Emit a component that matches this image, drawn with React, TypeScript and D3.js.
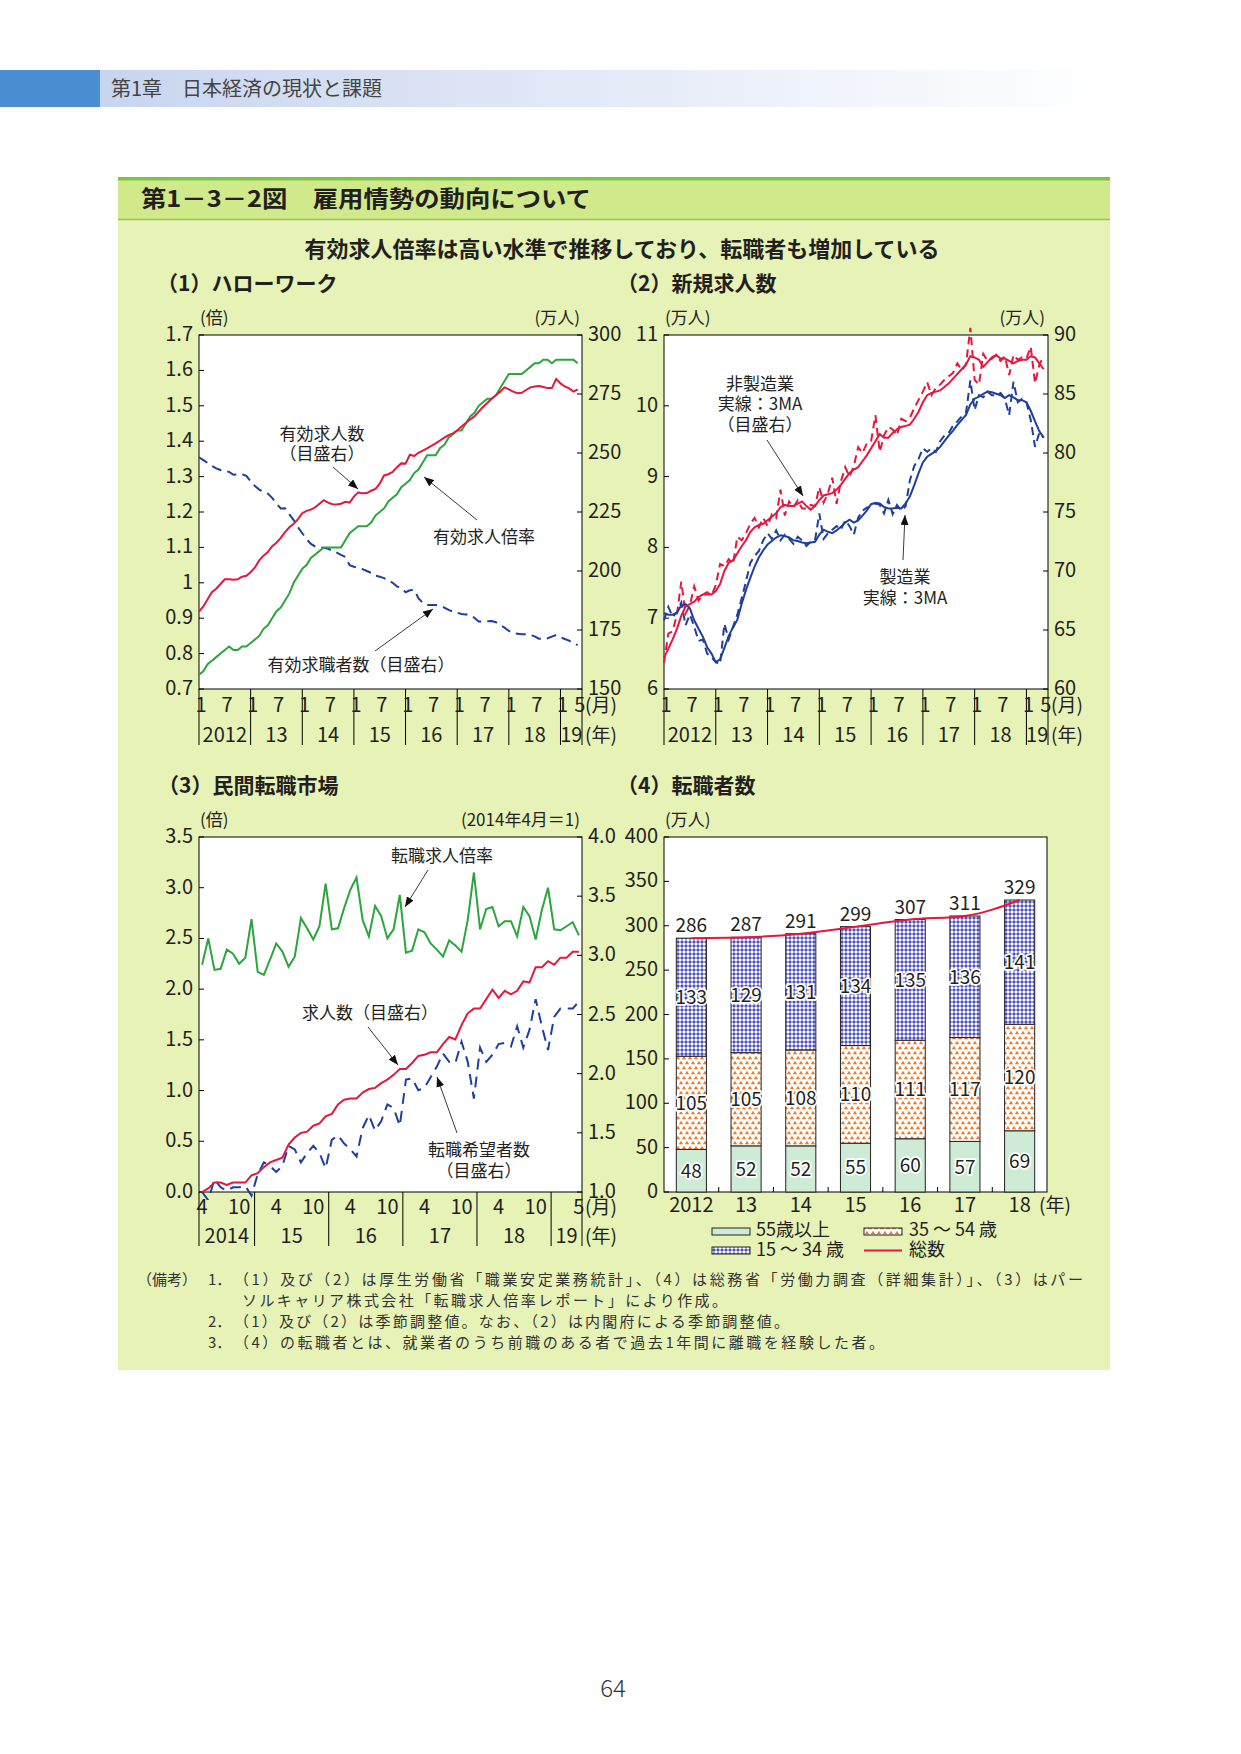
import React from 'react';
import * as d3 from 'd3';

// ---------------- DATA ----------------
// Panel 1: Hello Work, monthly Jan 2012 - May 2019
const p1Ratio = [
  0.74, 0.75, 0.77, 0.78, 0.79, 0.80, 0.81, 0.82, 0.81, 0.81, 0.82, 0.82,
  0.83, 0.84, 0.85, 0.87, 0.88, 0.90, 0.92, 0.93, 0.95, 0.97, 1.00, 1.02,
  1.04, 1.05, 1.07, 1.08, 1.09, 1.10, 1.10, 1.10, 1.10, 1.10, 1.12, 1.14,
  1.15, 1.16, 1.16, 1.16, 1.17, 1.19, 1.20, 1.21, 1.23, 1.24, 1.25, 1.27,
  1.28, 1.29, 1.31, 1.32, 1.34, 1.36, 1.36, 1.36, 1.38, 1.39, 1.41, 1.42,
  1.43, 1.43, 1.45, 1.47, 1.48, 1.50, 1.51, 1.52, 1.52, 1.53, 1.55, 1.57,
  1.59, 1.59, 1.59, 1.59, 1.60, 1.61, 1.62, 1.62, 1.63, 1.63, 1.62, 1.63,
  1.63, 1.63, 1.63, 1.63, 1.62,
];
const p1Offers = [
  182.8, 185, 188, 191, 192.5, 194.5, 196.5, 196.5, 196.3, 196.5, 197.6, 198,
  199.5, 201.5, 204.5, 206.5, 208, 210.5, 212, 214, 216.5, 218.5, 220, 222,
  224.5, 225.5, 226, 227, 228.5, 230, 229, 228.3, 228.2, 228.5, 229.3, 229,
  231.5, 233.3, 232.9, 233, 234, 234.8, 237, 240.5, 241, 242, 244, 245.6,
  245.5, 249.3, 248.7, 250.1, 251, 252, 253, 254.1, 255.3, 256.5, 257.6, 258.3,
  259.5, 261.2, 262.7, 264.2, 265.5, 267.5, 269.5, 271.2, 273, 274.5, 276, 277.8,
  277, 276, 275.3, 275.5, 276.7, 277.8, 278.2, 278.4, 278, 277.5, 277.5, 281.4,
  279.5, 278.2, 277.4, 276, 277,
];
const p1Seekers = [
  248.2, 247, 245.8, 244.5, 243.5, 242.8, 242.3, 242, 240.8, 241, 241, 240.3,
  238, 236, 234.5, 233.5, 232.8, 231, 228.5, 226.5, 226.6, 224, 221.6, 218.5,
  216, 213.5, 211.5, 210.4, 210, 209.8, 209.4, 208.6, 207.8, 206.8, 206, 202.5,
  201.8, 201.4, 200.8, 200, 199.2, 198, 197.6, 197, 196, 195, 193.5, 192.7,
  191, 191.8, 192, 188.5, 186.5, 185.6, 185.6, 185.6, 185.2, 184.5, 183.5, 182.8,
  182.3, 181.8, 181.6, 181.4, 180.2, 178.6, 178.6, 178.7, 178.8, 178.3, 177.2, 176,
  174.6, 173.6, 173.4, 173.2, 173.2, 172.9, 172.3, 171.3, 171.2, 171.5, 172.2, 172.9,
  172, 171.2, 170.5, 169.5, 168.6,
];
const p1LeftTicks = ['0.7', '0.8', '0.9', '1', '1.1', '1.2', '1.3', '1.4', '1.5', '1.6', '1.7'];
const p1RightTicks = [150, 175, 200, 225, 250, 275, 300];

// Panel 2: new job offers (manufacturing left axis, non-manufacturing right axis)
const p2MfgRaw = [
  6.97, 7.16, 7.02, 7.08, 7.22, 6.90, 7.05, 6.88, 6.68, 6.70, 6.50, 6.45,
  6.38, 6.35, 6.92, 6.70, 6.88, 7.05, 7.28, 7.52, 7.78, 7.88, 7.95, 8.10,
  8.20, 8.12, 8.24, 8.10, 8.18, 8.12, 8.05, 8.15, 8.10, 8.02, 8.08, 8.10,
  8.48, 8.12, 8.20, 8.25, 8.30, 8.25, 8.38, 8.30, 8.18, 8.42, 8.52, 8.56,
  8.58, 8.62, 8.60, 8.48, 8.67, 8.47, 8.60, 8.52, 8.58, 8.95, 9.15, 9.25,
  9.40, 9.35, 9.40, 9.35, 9.50, 9.58, 9.62, 9.72, 9.78, 9.85, 9.90, 10.36,
  9.94, 10.15, 10.12, 10.20, 10.15, 10.15, 10.18, 10.10, 9.87, 10.34, 10.05, 10.10,
  10.05, 9.80, 9.42, 9.62, 9.55,
];
const p2MfgMA = [
  7.07, 7.05, 7.05, 7.08, 7.18, 7.20, 7.14, 6.97, 6.85, 6.74, 6.59, 6.50,
  6.38, 6.42, 6.58, 6.75, 6.87, 6.98, 7.20, 7.40, 7.57, 7.73, 7.86, 7.96,
  8.04, 8.09, 8.14, 8.17, 8.16, 8.14, 8.10, 8.09, 8.07, 8.06, 8.07, 8.08,
  8.18, 8.25, 8.22, 8.20, 8.24, 8.29, 8.35, 8.39, 8.35, 8.38, 8.45, 8.52,
  8.61, 8.63, 8.62, 8.57, 8.55, 8.55, 8.56, 8.55, 8.62, 8.72, 8.88, 9.05,
  9.20, 9.28, 9.32, 9.36, 9.42, 9.50, 9.58, 9.65, 9.73, 9.80, 9.87, 10.02,
  10.10, 10.13, 10.17, 10.20, 10.19, 10.17, 10.15, 10.11, 10.15, 10.12, 10.08, 10.08,
  10.05, 9.93, 9.78, 9.64, 9.55,
];
const p2NonRaw = [
  62.2, 64.7, 64.9, 66.3, 69.1, 66.4, 67.1, 68.7, 67.5, 68.0, 68.2, 67.9,
  68.8, 70.6, 70.4, 71.0, 70.6, 72.9, 72.6, 73.2, 74.0, 74.5, 73.7, 74.5,
  73.8, 74.8, 74.5, 76.9, 74.7, 75.9, 75.4, 76.0, 75.3, 75.3, 75.6, 75.5,
  77.1, 75.8, 76.6, 77.9, 75.7, 77.6, 78.8, 78.0, 78.9, 80.5, 80.0, 80.8,
  81.0, 83.2, 80.1, 81.5, 82.2, 82.0, 81.5, 82.9, 82.7, 83.0, 83.8, 84.5,
  85.2, 86.0, 84.9, 85.5, 85.8, 86.2, 86.5, 86.8, 87.6, 87.0, 87.5, 90.6,
  86.2, 85.8, 88.4, 87.8, 88.0, 88.3, 87.8, 88.2, 86.6, 88.3, 87.9, 88.1,
  88.0, 89.0, 85.9, 87.5, 88.2,
];
const p2NonMA = [
  62.7, 63.4, 64.2, 65.1, 66.2, 67.0, 67.2, 67.4, 67.8, 68.0, 68.0, 68.0,
  68.3, 68.9, 70.0, 70.7, 70.9, 71.5, 72.1, 72.6, 73.3, 73.7, 73.9, 74.0,
  74.3, 74.6, 74.9, 75.4, 75.6, 75.5, 75.5, 75.7, 75.9, 75.5, 75.2, 75.5,
  76.0, 76.4, 76.5, 76.6, 76.9, 77.3, 77.8, 78.3, 78.6, 78.8, 79.3, 79.8,
  80.4, 81.0, 81.6, 81.3, 81.3, 81.7, 82.0, 82.2, 82.3, 82.4, 82.9, 83.5,
  84.3, 84.9, 85.1, 85.2, 85.3, 85.6, 85.9, 86.3, 86.7, 87.1, 87.5, 88.2,
  88.1, 87.9, 87.3, 87.7, 88.1, 88.3, 88.0, 88.0, 87.8, 87.6, 87.8, 87.9,
  87.9, 88.2, 88.1, 87.6, 87.1,
];
const p2LeftTicks = [6, 7, 8, 9, 10, 11];
const p2RightTicks = [60, 65, 70, 75, 80, 85, 90];

// shared month axis for panels 1 and 2
const p12Years = ['2012', '13', '14', '15', '16', '17', '18', '19'];
const p12MonthLabels = [[1, 7], [1, 7], [1, 7], [1, 7], [1, 7], [1, 7], [1, 7], [1, 5]];

// Panel 3: private job-change market, monthly Apr 2014 - May 2019
const p3Ratio = [
  2.24, 2.50, 2.19, 2.20, 2.39, 2.35, 2.25, 2.31, 2.69, 2.17,
  2.14, 2.29, 2.45, 2.37, 2.22, 2.32, 2.70, 2.60, 2.49, 2.62,
  3.04, 2.59, 2.60, 2.80, 2.98, 3.10, 2.68, 2.52, 2.82, 2.72,
  2.50, 2.59, 2.93, 2.36, 2.38, 2.59, 2.56, 2.45, 2.39, 2.32,
  2.48, 2.43, 2.37, 2.68, 3.15, 2.59, 2.79, 2.81, 2.62, 2.67,
  2.67, 2.52, 2.81, 2.72, 2.49, 2.78, 3.00, 2.59, 2.58, 2.62,
  2.66, 2.53,
];
const p3Offers = [
  1.00, 1.03, 1.08, 1.08, 1.06, 1.08, 1.08, 1.08, 1.14, 1.16,
  1.21, 1.25, 1.27, 1.29, 1.40, 1.46, 1.50, 1.51, 1.56, 1.58,
  1.64, 1.66, 1.74, 1.78, 1.79, 1.79, 1.84, 1.87, 1.88, 1.92,
  1.95, 1.99, 2.04, 2.04, 2.09, 2.15, 2.16, 2.18, 2.18, 2.25,
  2.31, 2.29, 2.41, 2.51, 2.55, 2.55, 2.63, 2.71, 2.64, 2.70,
  2.67, 2.70, 2.78, 2.77, 2.90, 2.90, 2.95, 2.92, 2.98, 2.98,
  3.03, 3.03,
];
const p3Seekers = [
  1.00, 0.93, 1.11, 1.04, 1.01, 1.04, 1.04, 1.05, 0.97, 1.15,
  1.25, 1.22, 1.17, 1.22, 1.39, 1.36, 1.25, 1.33, 1.39, 1.33,
  1.20, 1.44, 1.48, 1.41, 1.36, 1.30, 1.54, 1.65, 1.52, 1.60,
  1.74, 1.71, 1.56, 1.95, 1.96, 1.86, 1.88, 1.97, 2.06, 2.17,
  2.10, 2.09, 2.27, 2.10, 1.79, 2.22, 2.10, 2.16, 2.25, 2.26,
  2.23, 2.40, 2.22, 2.37, 2.63, 2.40, 2.20, 2.48, 2.55, 2.55,
  2.55, 2.61,
];
const p3LeftTicks = [0, 0.5, 1, 1.5, 2, 2.5, 3, 3.5];
const p3RightTicks = [1, 1.5, 2, 2.5, 3, 3.5, 4];
const p3Years = ['2014', '15', '16', '17', '18', '19'];
const p3MonthLabels = [[4, 10], [4, 10], [4, 10], [4, 10], [4, 10], [5]];

// Panel 4: job changers by age (10k persons)
const p4Years = ['2012', '13', '14', '15', '16', '17', '18'];
const p4Age55 = [48, 52, 52, 55, 60, 57, 69];
const p4Age35 = [105, 105, 108, 110, 111, 117, 120];
const p4Age15 = [133, 129, 131, 134, 135, 136, 141];
const p4Total = [286, 287, 291, 299, 307, 311, 329];
const p4Ticks = [0, 50, 100, 150, 200, 250, 300, 350, 400];

// ---------------- STYLE ----------------
const FONT = "'Noto Sans CJK JP', 'Noto Sans', sans-serif";
const TXT = '#231f20';
const GREEN = '#2ba53c';
const RED = '#e5173f';
const BLUE = '#1e3fa0';
const TICK_FS = 20;
const ANN_FS = 17;

const Arrow = ({ x1, y1, x2, y2 }: any) => (
  <line x1={x1} y1={y1} x2={x2} y2={y2} stroke="#222" strokeWidth={0.9} markerEnd="url(#arrowHead)" />
);

function YTicks({ scale, ticks, x, side, fmt }: any) {
  return (
    <g>
      {ticks.map((t: any, k: number) => {
        const v = typeof t === 'string' ? parseFloat(t) : t;
        const y = scale(v);
        const label = typeof t === 'string' ? t : fmt ? fmt(v) : String(v);
        return (
          <g key={k}>
            <line x1={x} x2={side === 'left' ? x + 5 : x - 5} y1={y} y2={y} stroke="#000" strokeWidth={1} />
            <text x={side === 'left' ? x - 6 : x + 6} y={y} dy="0.3em" fontSize={TICK_FS}
              textAnchor={side === 'left' ? 'end' : 'start'} fill={TXT}>{label}</text>
          </g>
        );
      })}
    </g>
  );
}

function MonthlyAxis({ x, B, R, years, monthLabels, idx, boundaries, mY, yY, lineEnd }: any) {
  return (
    <g fill={TXT} fontSize={TICK_FS}>
      {boundaries.map((b: number, k: number) => (
        <line key={'b' + k} x1={x(b)} x2={x(b)} y1={B} y2={lineEnd} stroke="#000" strokeWidth={1} />
      ))}
      {years.map((yr: string, k: number) =>
        monthLabels[k].map((m: number, j: number) => (
          <text key={yr + '-' + j} x={x(idx(k, m))} y={mY} textAnchor="middle">{m}</text>
        ))
      )}
      {years.map((yr: string, k: number) => (
        <text key={'y' + yr} x={(x(boundaries[k]) + x(boundaries[k + 1])) / 2} y={yY} textAnchor="middle">{yr}</text>
      ))}
      <text x={R + 3} y={mY} fontSize={19}>(月)</text>
      <text x={R + 3} y={yY} fontSize={19}>(年)</text>
    </g>
  );
}

function Panel1() {
  const L = 199, R = 582, T = 335, B = 689;
  const x = d3.scaleLinear().domain([0, 89]).range([L, R]);
  const yl = d3.scaleLinear().domain([0.7, 1.7]).range([B, T]);
  const yr = d3.scaleLinear().domain([150, 300]).range([B, T]);
  const lineL = d3.line<number>().x((_, i) => x(i)).y((d) => yl(d));
  const lineR = d3.line<number>().x((_, i) => x(i)).y((d) => yr(d));
  const boundaries = p12Years.map((_, k) => k * 12).concat([89]);
  return (
    <g>
      <rect x={L} y={T} width={R - L} height={B - T} fill="#fff" stroke="#000" strokeWidth={1} />
      <YTicks scale={yl} ticks={p1LeftTicks} x={L} side="left" />
      <YTicks scale={yr} ticks={p1RightTicks} x={R} side="right" />
      <path d={lineR(p1Seekers)!} fill="none" stroke={BLUE} strokeWidth={2} strokeDasharray="10,6" />
      <path d={lineL(p1Ratio)!} fill="none" stroke={GREEN} strokeWidth={2} />
      <path d={lineR(p1Offers)!} fill="none" stroke={RED} strokeWidth={2} />
      <MonthlyAxis x={x} B={B} R={R} years={p12Years} monthLabels={p12MonthLabels}
        idx={(k: number, m: number) => k * 12 + m - 1 + 0.5} boundaries={boundaries} mY={712} yY={742} lineEnd={745} />
      <text x={200} y={324} fontSize={17} fill={TXT}>(倍)</text>
      <text x={580} y={324} fontSize={17} fill={TXT} textAnchor="end">(万人)</text>
      <g fontSize={ANN_FS} fill={TXT} textAnchor="middle">
        <text x={322} y={440}>有効求人数</text>
        <text x={322} y={460}>（目盛右）</text>
        <text x={484} y={543}>有効求人倍率</text>
        <text x={361} y={671}>有効求職者数（目盛右）</text>
      </g>
      <Arrow x1={333} y1={467} x2={358} y2={489} />
      <Arrow x1={477} y1={520} x2={424} y2={477} />
      <Arrow x1={375} y1={651} x2={433} y2={609} />
    </g>
  );
}

function Panel2() {
  const L = 664, R = 1048, T = 335, B = 689;
  const x = d3.scaleLinear().domain([0, 89]).range([L, R]);
  const yl = d3.scaleLinear().domain([6, 11]).range([B, T]);
  const yr = d3.scaleLinear().domain([60, 90]).range([B, T]);
  const lineL = d3.line<number>().x((_, i) => x(i)).y((d) => yl(d));
  const lineR = d3.line<number>().x((_, i) => x(i)).y((d) => yr(d));
  const boundaries = p12Years.map((_, k) => k * 12).concat([89]);
  return (
    <g>
      <rect x={L} y={T} width={R - L} height={B - T} fill="#fff" stroke="#000" strokeWidth={1} />
      <YTicks scale={yl} ticks={p2LeftTicks} x={L} side="left" />
      <YTicks scale={yr} ticks={p2RightTicks} x={R} side="right" />
      <path d={lineL(p2MfgRaw)!} fill="none" stroke={BLUE} strokeWidth={2} strokeDasharray="8,5" />
      <path d={lineR(p2NonRaw)!} fill="none" stroke={RED} strokeWidth={2} strokeDasharray="8,5" />
      <path d={lineL(p2MfgMA)!} fill="none" stroke={BLUE} strokeWidth={2} />
      <path d={lineR(p2NonMA)!} fill="none" stroke={RED} strokeWidth={2} />
      <MonthlyAxis x={x} B={B} R={R} years={p12Years} monthLabels={p12MonthLabels}
        idx={(k: number, m: number) => k * 12 + m - 1 + 0.5} boundaries={boundaries} mY={712} yY={742} lineEnd={745} />
      <text x={665} y={324} fontSize={17} fill={TXT}>(万人)</text>
      <text x={1045} y={324} fontSize={17} fill={TXT} textAnchor="end">(万人)</text>
      <g fontSize={ANN_FS} fill={TXT} textAnchor="middle">
        <text x={760} y={390}>非製造業</text>
        <text x={760} y={410}>実線：3MA</text>
        <text x={760} y={431}>（目盛右）</text>
        <text x={905} y={583}>製造業</text>
        <text x={905} y={604}>実線：3MA</text>
      </g>
      <Arrow x1={767} y1={440} x2={803} y2={496} />
      <Arrow x1={903} y1={560} x2={905} y2={515} />
    </g>
  );
}

function Panel3() {
  const L = 199, R = 582, T = 837, B = 1192;
  const x = d3.scaleLinear().domain([-0.5, 61.5]).range([L, R]);
  const yl = d3.scaleLinear().domain([0, 3.5]).range([B, T]);
  const yr = d3.scaleLinear().domain([1, 4]).range([B, T]);
  const lineL = d3.line<number>().x((_, i) => x(i)).y((d) => yl(d));
  const lineR = d3.line<number>().x((_, i) => x(i)).y((d) => yr(d));
  // month index relative to Apr 2014
  const idx = (k: number, m: number) => k * 12 + m - 1 - 3;
  const boundaries = [-0.5].concat(p3Years.slice(1).map((_, k) => idx(k + 1, 1) - 0.5)).concat([61.5]);
  const f1 = d3.format('.1f');
  return (
    <g>
      <rect x={L} y={T} width={R - L} height={B - T} fill="#fff" stroke="#000" strokeWidth={1} />
      <YTicks scale={yl} ticks={p3LeftTicks} x={L} side="left" fmt={f1} />
      <YTicks scale={yr} ticks={p3RightTicks} x={R} side="right" fmt={f1} />
      <defs>
        <clipPath id="clip3"><rect x={L} y={T} width={R - L} height={B - T + 8} /></clipPath>
      </defs>
      <g clipPath="url(#clip3)">
        <path d={lineR(p3Seekers)!} fill="none" stroke={BLUE} strokeWidth={2} strokeDasharray="11,7" />
      </g>
      <path d={lineL(p3Ratio)!} fill="none" stroke={GREEN} strokeWidth={2} />
      <path d={lineR(p3Offers)!} fill="none" stroke={RED} strokeWidth={2} />
      <MonthlyAxis x={x} B={B} R={R} years={p3Years} monthLabels={p3MonthLabels}
        idx={idx} boundaries={boundaries} mY={1214} yY={1243} lineEnd={1246} />
      <text x={200} y={826} fontSize={17} fill={TXT}>(倍)</text>
      <text x={580} y={826} fontSize={17} fill={TXT} textAnchor="end">(2014年4月＝1)</text>
      <g fontSize={ANN_FS} fill={TXT} textAnchor="middle">
        <text x={442} y={862}>転職求人倍率</text>
        <text x={370} y={1019}>求人数（目盛右）</text>
        <text x={479} y={1156}>転職希望者数</text>
        <text x={479} y={1177}>（目盛右）</text>
      </g>
      <Arrow x1={428} y1={870} x2={405} y2={907} />
      <Arrow x1={368} y1={1027} x2={398} y2={1065} />
      <Arrow x1={457} y1={1133} x2={437} y2={1077} />
    </g>
  );
}

function Panel4() {
  const L = 664, R = 1047, T = 837, B = 1192;
  const x = d3.scaleBand().domain(p4Years).range([L, R]).paddingInner(0.45).paddingOuter(0.225);
  const y = d3.scaleLinear().domain([0, 400]).range([B, T]);
  const bw = x.bandwidth();
  const step = x.step();
  const segs = p4Years.map((yr, i) => {
    const a = p4Age55[i], b = p4Age35[i], c = p4Age15[i];
    return [
      { y0: 0, y1: a, v: a, fill: '#cdebd5' },
      { y0: a, y1: a + b, v: b, fill: 'url(#patOrange)' },
      { y0: a + b, y1: p4Total[i], v: c, fill: 'url(#patBlue)' },
    ].map((s) => ({ ...s, yr }));
  });
  const totalLine = d3.line<number>()
    .x((_, i) => (x(p4Years[i]) as number) + bw / 2)
    .y((d) => y(d))
    .curve(d3.curveMonotoneX);
  return (
    <g>
      <rect x={L} y={T} width={R - L} height={B - T} fill="#fff" stroke="#000" strokeWidth={1} />
      <YTicks scale={y} ticks={p4Ticks} x={L} side="left" />
      {p4Years.slice(1).map((yr) => {
        const bx = (x(yr) as number) - (step - bw) / 2;
        return <line key={yr} x1={bx} x2={bx} y1={B} y2={B - 5} stroke="#000" />;
      })}
      {segs.flat().map((s, k) => (
        <rect key={k} x={x(s.yr)} y={y(s.y1)} width={bw} height={y(s.y0) - y(s.y1)}
          fill={s.fill} stroke="#222" strokeWidth={1} />
      ))}
      <path d={totalLine(p4Total)!} fill="none" stroke={RED} strokeWidth={2} />
      <g fontSize={19} textAnchor="middle" fill={TXT} stroke="#fff" strokeWidth={3.5}
        style={{ paintOrder: 'stroke' } as any} strokeLinejoin="round">
        {segs.flat().map((s, k) => (
          <text key={k} x={(x(s.yr) as number) + bw / 2} y={y((s.y0 + s.y1) / 2)} dy="0.36em">{s.v}</text>
        ))}
      </g>
      <g fontSize={19} textAnchor="middle" fill={TXT}>
        {p4Total.map((t, i) => (
          <text key={i} x={(x(p4Years[i]) as number) + bw / 2} y={y(t) - 6}>{t}</text>
        ))}
      </g>
      <g fontSize={TICK_FS} textAnchor="middle" fill={TXT}>
        {p4Years.map((yr) => (
          <text key={yr} x={(x(yr) as number) + bw / 2} y={1212}>{yr}</text>
        ))}
      </g>
      <text x={1039} y={1212} fontSize={19} fill={TXT}>(年)</text>
      <text x={665} y={826} fontSize={17} fill={TXT}>(万人)</text>
      {/* legend */}
      <g fontSize={18} fill={TXT}>
        <rect x={712} y={1228} width={38} height={7} fill="#cdebd5" stroke="#222" />
        <text x={756} y={1236}>55歳以上</text>
        <rect x={864} y={1228} width={38} height={7} fill="url(#patOrange)" stroke="#222" />
        <text x={909} y={1236}>35 ～ 54 歳</text>
        <rect x={712} y={1247} width={38} height={7} fill="url(#patBlue)" stroke="#222" />
        <text x={756} y={1256}>15 ～ 34 歳</text>
        <line x1={864} x2={902} y1={1250.5} y2={1250.5} stroke={RED} strokeWidth={2} />
        <text x={909} y={1256}>総数</text>
      </g>
    </g>
  );
}

export default function App() {
  return (
    <svg width={1241} height={1754} viewBox="0 0 1241 1754"
      style={{ position: 'absolute', left: 0, top: 0, background: '#fff' }} fontFamily={FONT}>
      <defs>
        <linearGradient id="hdrGrad" x1="0" x2="1" y1="0" y2="0">
          <stop offset="0" stopColor="#c8d5ef" />
          <stop offset="1" stopColor="#ffffff" />
        </linearGradient>
        <marker id="arrowHead" markerUnits="userSpaceOnUse" markerWidth={11} markerHeight={8}
          refX={10} refY={4} orient="auto">
          <path d="M0,0 L10,4 L0,8 Z" fill="#111" />
        </marker>
        <pattern id="patBlue" patternUnits="userSpaceOnUse" width={4} height={4}>
          <rect width={4} height={4} fill="#fff" />
          <polygon points="2,0 4,2 2,4 0,2" fill="#4f4fc6" />
        </pattern>
        <pattern id="patOrange" patternUnits="userSpaceOnUse" width={6} height={10}>
          <rect width={6} height={10} fill="#fff" />
          <polygon points="3,0.8 5.2,4.2 0.8,4.2" fill="#f07a2a" />
          <polygon points="0,5.8 2.2,9.2 -2.2,9.2" fill="#f07a2a" />
          <polygon points="6,5.8 8.2,9.2 3.8,9.2" fill="#f07a2a" />
        </pattern>
      </defs>

      {/* page header */}
      <rect x={0} y={70} width={100} height={37} fill="#4a8fd4" />
      <rect x={100} y={70} width={1003} height={37} fill="url(#hdrGrad)" />
      <text x={111} y={96} fontSize={20} fill="#444">第1章　日本経済の現状と課題</text>

      {/* panel background */}
      <rect x={118} y={177} width={992} height={1193} fill="#e7f2b7" />
      <rect x={118} y={180} width={992} height={39} fill="#d0e98b" />
      <rect x={118} y={177} width={992} height={3.5} fill="#7cc444" />
      <line x1={118} x2={1110} y1={219.5} y2={219.5} stroke="#8cc84b" strokeWidth={1.5} />
      <text x={141} y={207} fontSize={23} fontWeight="bold" fill={TXT} textLength={450} lengthAdjust="spacingAndGlyphs">第1－3－2図　雇用情勢の動向について</text>

      <text x={622} y={257} fontSize={22} fontWeight="bold" fill={TXT} textAnchor="middle">有効求人倍率は高い水準で推移しており、転職者も増加している</text>
      <text x={157} y={291} fontSize={21} fontWeight="bold" fill={TXT}>（1）ハローワーク</text>
      <text x={617} y={291} fontSize={21} fontWeight="bold" fill={TXT}>（2）新規求人数</text>
      <text x={158} y={793} fontSize={21} fontWeight="bold" fill={TXT}>（3）民間転職市場</text>
      <text x={617} y={793} fontSize={21} fontWeight="bold" fill={TXT}>（4）転職者数</text>

      <Panel1 />
      <Panel2 />
      <Panel3 />
      <Panel4 />

      {/* notes */}
      <g fontSize={15} fill="#333">
        <text x={137} y={1285}>（備考）</text>
        <text x={208} y={1285}>1．</text>
        <text x={234} y={1285} textLength={849} lengthAdjust="spacing">（1）及び（2）は厚生労働省「職業安定業務統計」、（4）は総務省「労働力調査（詳細集計）」、（3）はパー</text>
        <text x={242} y={1306} textLength={485} lengthAdjust="spacing">ソルキャリア株式会社「転職求人倍率レポート」により作成。</text>
        <text x={208} y={1327}>2．</text>
        <text x={234} y={1327} textLength={555} lengthAdjust="spacing">（1）及び（2）は季節調整値。なお、（2）は内閣府による季節調整値。</text>
        <text x={208} y={1348}>3．</text>
        <text x={234} y={1348} textLength={650} lengthAdjust="spacing">（4）の転職者とは、就業者のうち前職のある者で過去1年間に離職を経験した者。</text>
      </g>

      <text x={613} y={1697} fontSize={24} fill="#333" textAnchor="middle" fontWeight={300}>64</text>
    </svg>
  );
}
